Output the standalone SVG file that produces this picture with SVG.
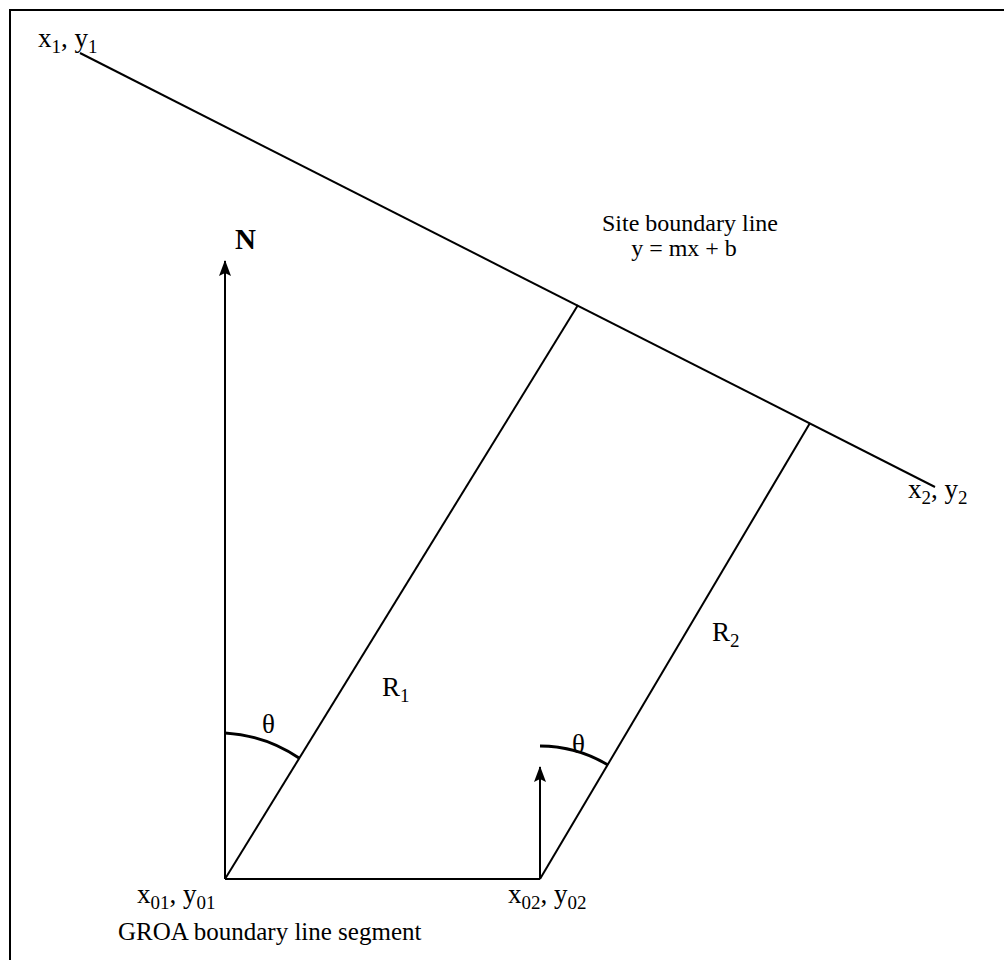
<svg xmlns="http://www.w3.org/2000/svg" width="1004" height="960" viewBox="0 0 1004 960">
<style>
  .ln { stroke:#000; stroke-width:2; fill:none; }
  .arc { stroke:#000; stroke-width:3; fill:none; }
  .t { font-family:"Liberation Serif", "Times New Roman", serif; font-size:24px; fill:#000; }
  .c { font-size:27px; }
  .sub { font-size:19px; }
</style>
<defs>
  <marker id="ah" viewBox="0 0 16 12" refX="15" refY="6" markerWidth="16" markerHeight="12" markerUnits="userSpaceOnUse" orient="auto">
    <path d="M0,0 L16,6 L0,12 L3,6 Z" fill="#000"/>
  </marker>
</defs>
<rect x="10" y="10" width="1000" height="960" fill="none" stroke="#000" stroke-width="2"/>
<g id="connectors">
  <line id="boundary" class="ln" x1="80" y1="53" x2="935" y2="487"/>
  <line id="north" class="ln" x1="225" y1="879" x2="225" y2="261" marker-end="url(#ah)"/>
  <line id="north2" class="ln" x1="540" y1="879" x2="540" y2="767" marker-end="url(#ah)"/>
  <line id="R1" class="ln" x1="225" y1="879" x2="578" y2="305"/>
  <line id="R2" class="ln" x1="540" y1="879" x2="810" y2="423"/>
  <line id="groa" class="ln" x1="225" y1="879" x2="540" y2="879"/>
  <path id="theta1" class="arc" d="M225,733 A146,146 0 0 1 299,758"/>
  <path id="theta2" class="arc" d="M540,746 A133,133 0 0 1 608,765"/>
</g>
<g id="labels">
  <text class="t c" x="38" y="47">x<tspan class="sub" dy="6">1</tspan><tspan dy="-6">, y</tspan><tspan class="sub" dy="6">1</tspan></text>
  <text class="t" x="690" y="231" text-anchor="middle">Site boundary line</text>
  <text class="t" x="684" y="256" text-anchor="middle">y = mx + b</text>
  <text class="t" x="235" y="249" style="font-weight:bold;font-size:29px">N</text>
  <text class="t c" x="382" y="696">R<tspan class="sub" dy="6">1</tspan></text>
  <text class="t c" x="712" y="641">R<tspan class="sub" dy="6">2</tspan></text>
  <text class="t c" x="262" y="733">θ</text>
  <text class="t c" x="572" y="753">θ</text>
  <text class="t c" x="908" y="498">x<tspan class="sub" dy="6">2</tspan><tspan dy="-6">, y</tspan><tspan class="sub" dy="6">2</tspan></text>
  <text class="t c" x="137" y="903">x<tspan class="sub" dy="6">01</tspan><tspan dy="-6">, y</tspan><tspan class="sub" dy="6">01</tspan></text>
  <text class="t c" x="508" y="903">x<tspan class="sub" dy="6">02</tspan><tspan dy="-6">, y</tspan><tspan class="sub" dy="6">02</tspan></text>
  <text class="t" x="118" y="940" style="font-size:25px">GROA boundary line segment</text>
</g>
</svg>
